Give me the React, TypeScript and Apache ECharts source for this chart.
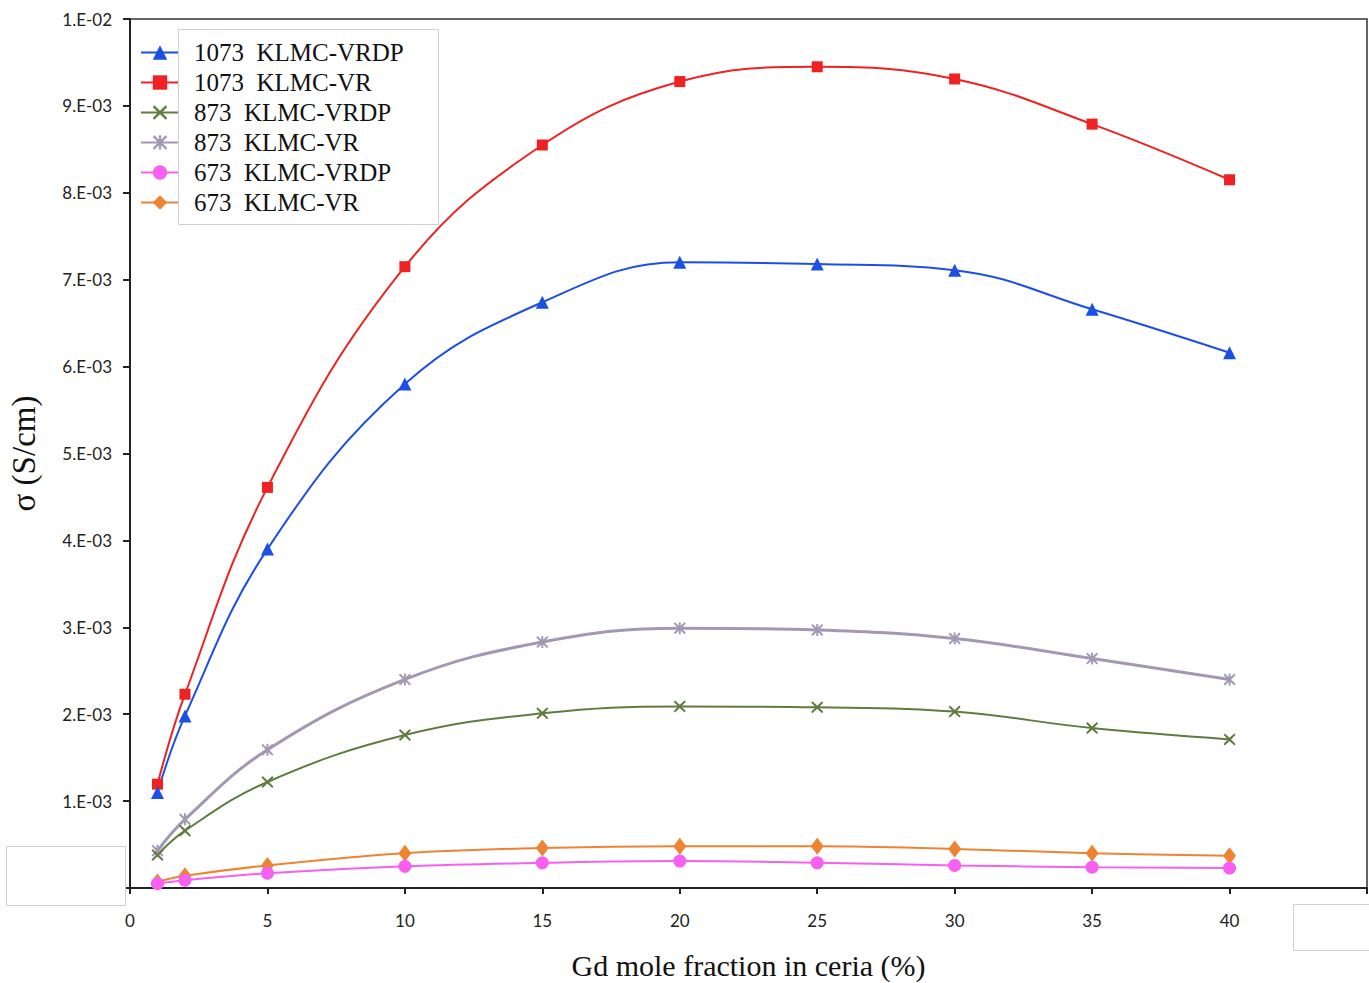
import React, { useEffect, useRef } from "react";
import * as echarts from "echarts";

const xValues = [1, 2, 5, 10, 15, 20, 25, 30, 35, 40];
const s1073VRDP = [1.1e-3, 1.98e-3, 3.9e-3, 5.8e-3, 6.74e-3, 7.2e-3, 7.18e-3, 7.11e-3, 6.66e-3, 6.16e-3];
const s1073VR = [1.195e-3, 2.23e-3, 4.61e-3, 7.15e-3, 8.55e-3, 9.28e-3, 9.45e-3, 9.31e-3, 8.79e-3, 8.15e-3];
const s873VRDP = [0.38e-3, 0.66e-3, 1.22e-3, 1.76e-3, 2.01e-3, 2.09e-3, 2.08e-3, 2.03e-3, 1.84e-3, 1.71e-3];
const s873VR = [0.43e-3, 0.79e-3, 1.59e-3, 2.4e-3, 2.83e-3, 2.99e-3, 2.97e-3, 2.87e-3, 2.64e-3, 2.4e-3];
const s673VRDP = [0.05e-3, 0.09e-3, 0.17e-3, 0.25e-3, 0.29e-3, 0.31e-3, 0.29e-3, 0.26e-3, 0.24e-3, 0.23e-3];
const s673VR = [0.07e-3, 0.14e-3, 0.26e-3, 0.4e-3, 0.46e-3, 0.48e-3, 0.48e-3, 0.45e-3, 0.4e-3, 0.37e-3];

const seriesNames = [
  "1073  KLMC-VRDP",
  "1073  KLMC-VR",
  "873  KLMC-VRDP",
  "873  KLMC-VR",
  "673  KLMC-VRDP",
  "673  KLMC-VR",
];
const yTickLabels = ["0.E+00", "1.E-03", "2.E-03", "3.E-03", "4.E-03", "5.E-03", "6.E-03", "7.E-03", "8.E-03", "9.E-03", "1.E-02"];

const X_SYMBOL =
  "path://M1,0 L5,3.7 L9,0 L10,1.2 L6.3,5 L10,8.8 L9,10 L5,6.3 L1,10 L0,8.8 L3.7,5 L0,1.2 Z";
const STAR_SYMBOL =
  "path://M1,0 L5,3.7 L9,0 L10,1.2 L6.3,5 L10,8.8 L9,10 L5,6.3 L1,10 L0,8.8 L3.7,5 L0,1.2 Z M4.2,0 L5.8,0 L5.8,10 L4.2,10 Z";

export default function App() {
  const ref = useRef<HTMLDivElement>(null);
  useEffect(() => {
    document.body.style.margin = "0";
    const chart = echarts.init(ref.current!, null, { renderer: "svg" });
    const mk = (name: string, vals: number[], color: string, symbol: string, size: number | number[], width = 2) => ({
      name,
      type: "line",
      data: xValues.map((x, i) => [x, vals[i]]),
      smooth: 0.4,
      symbol,
      symbolSize: size,
      lineStyle: { color, width },
      itemStyle: { color },
      emphasis: { disabled: true },
    });
    const serif = "'Liberation Serif', 'DejaVu Serif', serif";
    chart.setOption({
      animation: false,
      backgroundColor: "#ffffff",
      grid: {
        left: 130,
        top: 19,
        width: 1237,
        height: 869,
        show: true,
        borderColor: "#333",
        borderWidth: 1.5,
        containLabel: false,
        outerBoundsMode: "none",
      },
      legend: {
        orient: "vertical",
        left: 140,
        top: 40,
        padding: 0,
        itemWidth: 38,
        itemHeight: 18,
        itemGap: 5,
        data: seriesNames,
        textStyle: { fontFamily: serif, fontSize: 25, lineHeight: 25, color: "#111", padding: [0, 0, 0, 10] },
      },
      xAxis: {
        type: "value",
        min: 0,
        max: 45,
        interval: 5,
        name: "Gd mole fraction in ceria (%)",
        nameLocation: "middle",
        nameGap: 62,
        nameTextStyle: { fontFamily: serif, fontSize: 30, color: "#111" },
        axisLine: { show: true, onZero: false, lineStyle: { color: "#222", width: 2 } },
        axisTick: { show: true, length: 6, lineStyle: { color: "#222", width: 2 } },
        axisLabel: {
          margin: 24,
          fontFamily: "Lato, 'Open Sans', sans-serif",
          fontSize: 17,
          color: "#222",
          formatter: (v: number) => (v === 45 ? "" : String(v)),
        },
        splitLine: { show: false },
      },
      yAxis: {
        type: "value",
        min: 0,
        max: 0.01,
        interval: 0.001,
        name: "σ (S/cm)",
        nameLocation: "middle",
        nameGap: 90,
        nameTextStyle: { fontFamily: serif, fontSize: 33, color: "#111" },
        axisLine: { show: true, lineStyle: { color: "#222", width: 2 } },
        axisTick: { show: true, length: 7, lineStyle: { color: "#222", width: 2 } },
        axisLabel: {
          margin: 18,
          fontFamily: "Lato, 'Open Sans', sans-serif",
          fontSize: 17,
          color: "#222",
          formatter: (v: number) => {
            const i = Math.round(v / 0.001);
            return i === 0 ? "" : yTickLabels[i];
          },
        },
        splitLine: { show: false },
      },
      graphic: [
        {
          type: "rect",
          left: 178,
          top: 29,
          shape: { width: 260, height: 195 },
          style: { fill: "transparent", stroke: "#cfcfcf", lineWidth: 1 },
          silent: true,
          z: 100,
        },
        {
          type: "rect",
          left: 6,
          top: 846,
          shape: { width: 119, height: 59 },
          style: { fill: "#fff", stroke: "#cfcfcf", lineWidth: 1 },
          silent: true,
          z: 100,
        },
        {
          type: "rect",
          left: 1293,
          top: 904,
          shape: { width: 80, height: 46 },
          style: { fill: "#fff", stroke: "#cfcfcf", lineWidth: 1 },
          silent: true,
          z: 100,
        },
      ],
      series: [
        mk(seriesNames[5], s673VR, "#ec8432", "diamond", [13, 17]),
        mk(seriesNames[4], s673VRDP, "#f75ff0", "circle", 13),
        mk(seriesNames[3], s873VR, "#a398b3", STAR_SYMBOL, 12, 3),
        mk(seriesNames[2], s873VRDP, "#5f7c3e", X_SYMBOL, 12),
        mk(seriesNames[1], s1073VR, "#ee2222", "rect", 11),
        mk(seriesNames[0], s1073VRDP, "#1c4fe6", "triangle", 13),
      ],
    });
    return () => chart.dispose();
  }, []);
  return <div ref={ref} style={{ position: "fixed", left: 0, top: 0, width: 1369, height: 983 }} />;
}
